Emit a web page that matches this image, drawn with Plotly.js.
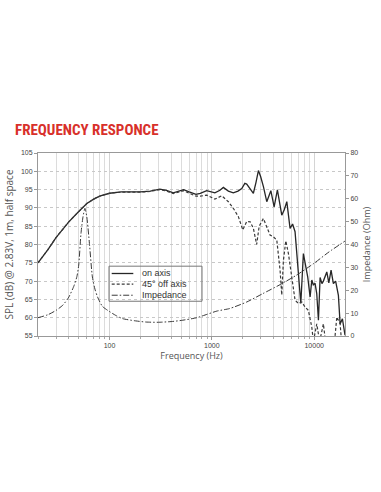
<!DOCTYPE html>
<html><head><meta charset="utf-8">
<script src="https://cdn.plot.ly/plotly-3.0.1.min.js"></script>
<style>html,body{margin:0;padding:0;background:#fff;}#chart{width:381px;height:492px;}</style>
</head><body><div id="chart"></div>
<script>
// On-axis SPL
var onAxisFreq = [20,25,30,35,40,50,60,70,80,100,130,200,250,310,360,420,480,530,600,700,770,890,1070,1200,1295,1450,1620,1800,1960,2100,2190,2350,2545,2700,2850,3000,3190,3440,3600,3770,4060,4370,4820,5100,5400,5810,6150,6500,6850,7150,7400,7840,8200,8650,9120,9480,9800,10200,10590,11000,11420,11900,12300,13280,13900,14620,15400,16200,17240,17920,18870,20000];
var onAxisSPL  = [75,78.6,81.9,84.2,86.2,89,91.2,92.4,93.2,94,94.4,94.4,94.6,95.1,94.8,94.1,94.6,95,94.4,93.7,94,94.7,94.1,94.8,95.6,94.6,94.1,94.6,95.3,96.7,96.5,95.2,94,97,100.2,98.5,95.8,91.7,93.5,94.7,90.3,94.9,88,89.5,91.7,84.4,85.6,83.5,75.6,68.3,63.9,77.5,74.5,71.1,65.7,70.3,69,69.4,66.6,59.3,71,69.3,70,72.5,69.5,73,69.3,70,66.1,58.3,59.7,55.2];
// 45° off-axis SPL
var offAxisFreq = [20,25,30,35,40,50,60,70,80,100,130,200,250,310,360,420,480,530,600,700,770,890,1070,1250,1450,1620,1816,2005,2193,2370,2545,2740,2900,3186,3440,3700,3990,4310,4640,4820,5000,5280,5600,6040,6500,7000,7570,8140,8770,9480,9820,10600,11300,12300,12900,14000,15500,16640,17920,18500,20000];
var offAxisSPL  = [75,78.6,81.9,84.2,86.2,89,91.2,92.4,93.2,94,94.3,94.3,94.5,95,94.6,93.9,94.4,94.7,94,93.2,93.2,93.5,92.4,93.3,91.7,89.9,87.6,84,86.3,86.2,84.4,80,85,87.1,84.8,82.6,82.1,81.2,73,66.2,75.6,81,77.5,71.1,64.8,63.9,64.3,62.9,62,57.4,53.5,58.3,53.5,58.3,53.5,50,51,60.2,58.3,53.5,52];
// Impedance
var impFreq = [20,25,30,35,40,45,48,50,52.6,55,57.5,60,63.6,68,72,76.5,85,96,115,134,180,228,300,400,500,714,900,1120,1490,2200,3170,4530,6720,9900,14000,20000];
var impOhm  = [8.0,9.3,11.2,13.5,17,22,26,31,44.8,52,55.8,52,40.5,25.8,20.5,17,13,11.2,9,7.6,6.6,6.1,6.0,6.3,6.8,8,9.5,10.9,12,14.9,18.6,22.2,26.6,31.7,36.8,41.5];

var majorTicks = [100,1000,10000];
var majorLabels = ['100','1000','10000'];
var minorTicks = [20,30,40,50,60,70,80,90,200,300,400,500,600,700,800,900,2000,3000,4000,5000,6000,7000,8000,9000];
var seriesNames = ['on axis','45° off axis','Impedance'];

var lineStyles = [
  {color:'#262626', width:1.3},
  {color:'#3a3a3a', width:1.2, dash:'3px,2px'},
  {color:'#3a3a3a', width:1, dash:'6px,2px,1.5px,2px'}
];
var tickFont = {family:'Liberation Sans, Arial, sans-serif', size:7, color:'#444'};
var traces = [
  {x:onAxisFreq, y:onAxisSPL, name:seriesNames[0], mode:'lines', line:lineStyles[0], yaxis:'y'},
  {x:offAxisFreq, y:offAxisSPL, name:seriesNames[1], mode:'lines', line:lineStyles[1], yaxis:'y'},
  {x:impFreq, y:impOhm, name:seriesNames[2], mode:'lines', line:Object.assign({shape:'spline', smoothing:0.6}, lineStyles[2]), yaxis:'y2'}
];

// custom compact legend (paper coordinates of the plot area)
var legX0 = (109-38)/307, legX1 = (202-38)/307, legY0 = (335.7-301)/182.7, legY1 = (335.7-266)/182.7;
var sampleX0 = (111.7-38)/307, sampleX1 = (133.3-38)/307, labelX = (140-38)/307;
var rowY = [(335.7-273.3)/182.7, (335.7-284)/182.7, (335.7-295)/182.7];
var shapes = [{type:'rect', xref:'paper', yref:'paper', x0:legX0, x1:legX1, y0:legY0, y1:legY1, line:{color:'#777', width:1}}];
var annotations = [];
for (var i=0;i<seriesNames.length;i++){
  shapes.push({type:'line', xref:'paper', yref:'paper', x0:sampleX0, x1:sampleX1, y0:rowY[i], y1:rowY[i], line:lineStyles[i]});
  annotations.push({xref:'paper', yref:'paper', x:labelX, y:rowY[i], xanchor:'left', yanchor:'middle', showarrow:false, text:seriesNames[i],
    font:{family:'Liberation Sans, Arial, sans-serif', size:9, color:'#333'}});
}

var layout = {
  width:381, height:492,
  margin:{l:38, r:36, t:153, b:156},
  paper_bgcolor:'#fff', plot_bgcolor:'#fff',
  showlegend:false,
  shapes:shapes, annotations:annotations,
  title:{text:'<b>FREQUENCY RESPONCE</b>', x:15/381, xanchor:'left', xref:'container', y:1-130/492, yref:'container', yanchor:'middle',
    font:{family:'Liberation Sans Narrow, Roboto Condensed, Arial Narrow, sans-serif', size:15, color:'#d8302a'}},
  xaxis:{type:'log', range:[Math.log10(20), Math.log10(20000)], tickmode:'array', tickvals:majorTicks, ticktext:majorLabels,
    showgrid:true, gridcolor:'#d4d4d4', gridwidth:1, showline:true, linecolor:'#999', linewidth:1, mirror:true,
    ticks:'outside', ticklen:3, tickcolor:'#999', tickfont:tickFont, zeroline:false,
    minor:{tickmode:'array', tickvals:minorTicks, showgrid:true, gridcolor:'#dcdcdc', gridwidth:1, ticks:'outside', ticklen:2, tickcolor:'#aaa'},
    title:{text:'Frequency (Hz)', font:{family:'Open Sans, sans-serif', size:9, color:'#555'}, standoff:3}},
  yaxis:{range:[55,105], dtick:5, showgrid:true, gridcolor:'#c8c8c8', griddash:'dot', gridwidth:1, showline:true, linecolor:'#999', linewidth:1,
    ticks:'outside', ticklen:3, tickcolor:'#999', tickfont:tickFont, zeroline:false,
    title:{text:'SPL (dB) @ 2.83V, 1m, half space', font:{family:'Open Sans, sans-serif', size:10, color:'#555'}, standoff:5}},
  yaxis2:{range:[0,80], dtick:10, overlaying:'y', side:'right', showgrid:false, showline:true, linecolor:'#999', linewidth:1,
    ticks:'outside', ticklen:3, tickcolor:'#999', tickfont:tickFont, zeroline:false,
    title:{text:'Impedance (Ohm)', font:{family:'Open Sans, sans-serif', size:9, color:'#555'}, standoff:6}}
};
Plotly.newPlot('chart', traces, layout, {staticPlot:true, displayModeBar:false});
</script></body></html>
